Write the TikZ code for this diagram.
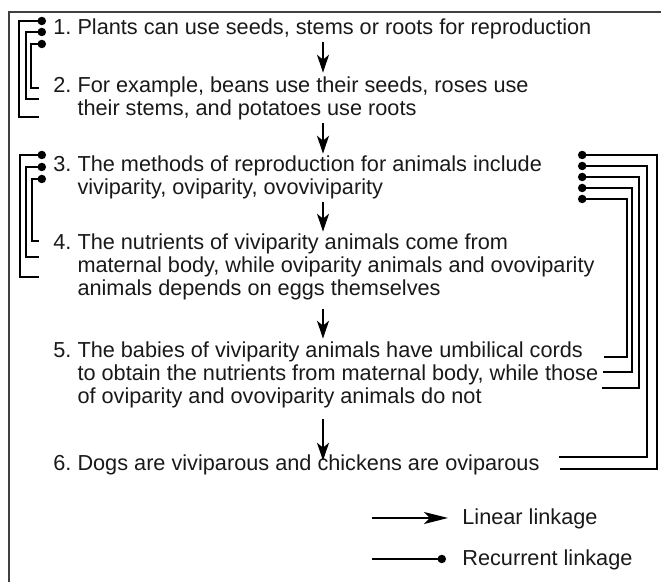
\documentclass[tikz,border=0pt]{standalone}
\usepackage{fontspec}
\setmainfont{Liberation Sans}
\usetikzlibrary{arrows.meta}

\newcommand{\itemlines}[2]{#1\ \begin{tabular}[t]{@{}l@{}}#2\end{tabular}}

\begin{document}
\begin{tikzpicture}[x=0.5pt,y=-0.5pt,
  item/.style={anchor=base west,inner sep=0pt,text=black!90,font=\fontsize{10.85}{11.35}\selectfont},
  lin/.style={-{Stealth[length=9pt,width=6pt,inset=2.5pt]},line width=0.6pt},
  rec/.style={-{Circle[length=4.2pt]},line width=0.6pt},
  frame/.style={draw=black!75,line width=1pt}]
\useasboundingbox (0,0) rectangle (661,582);
\draw[frame] (9,582) -- (9,12) -- (661,12);

% statements
\node[item] (t1) at (53,35) {\itemlines{1.}{Plants can use seeds, stems or roots for reproduction}};
\node[item] (t2) at (53,93) {\itemlines{2.}{For example, beans use their seeds, roses use\\their stems, and potatoes use roots}};
\node[item] (t3) at (53,172) {\itemlines{3.}{The methods of reproduction for animals include\\viviparity, oviparity, ovoviviparity}};
\node[item] (t4) at (53,250) {\itemlines{4.}{The nutrients of viviparity animals come from\\maternal body, while oviparity animals and ovoviparity\\animals depends on eggs themselves}};
\node[item] (t5) at (53,358) {\itemlines{5.}{The babies of viviparity animals have umbilical cords\\to obtain the nutrients from maternal body, while those\\of oviparity and ovoviparity animals do not}};
\node[item] (t6) at (53,471) {\itemlines{6.}{Dogs are viviparous and chickens are oviparous}};

% linear linkage
\coordinate (ax) at (323,0);
\draw[lin,shorten >=2pt] (t1.south -| ax) -- (t2.north -| ax);
\draw[lin,shorten >=1pt] (t2.south -| ax) -- (t3.north -| ax);
\draw[lin,shorten >=1pt] (t3.south -| ax) -- (t4.north -| ax);
\draw[lin,shorten <=3pt,shorten >=1.5pt] (t4.south -| ax) -- (t5.north -| ax);
\draw[lin,shorten <=4pt,shorten >=-3pt] (t5.south -| ax) -- (t6.north -| ax);

% recurrent linkage, left
\draw[rec] (39,117) -- (19,117) -- (19,21) -- (46,21);
\draw[rec] (39,99) -- (26,99) -- (26,32) -- (46,32);
\draw[rec] (39,88) -- (31,88) -- (31,44) -- (46,44);
\draw[rec] (39,277) -- (20,277) -- (20,155) -- (46,155);
\draw[rec] (39,257) -- (26,257) -- (26,167) -- (46,167);
\draw[rec] (39,241) -- (32,241) -- (32,179) -- (46,179);

% recurrent linkage, right
\draw[rec] (560,469) -- (657,469) -- (657,155) -- (578,155);
\draw[rec] (559,457) -- (647,457) -- (647,166) -- (578,166);
\draw[rec] (602,388) -- (639,388) -- (639,177) -- (578,177);
\draw[rec] (603,372) -- (632,372) -- (632,188) -- (578,188);
\draw[rec] (604,357) -- (627,357) -- (627,199) -- (578,199);

% legend
\node[item] (linlab) at (462,525) {Linear linkage};
\node[item] (reclab) at (462,566) {Recurrent linkage};
\coordinate (linst) at (372,518);
\coordinate (recst) at (372,559);
\draw[line width=0.6pt,-{Stealth[length=12pt,width=6pt,inset=3pt]},shorten >=7pt] (linst) -- (linst -| linlab.west);
\draw[rec,shorten >=8pt] (recst) -- (recst -| reclab.west);
\end{tikzpicture}
\end{document}
